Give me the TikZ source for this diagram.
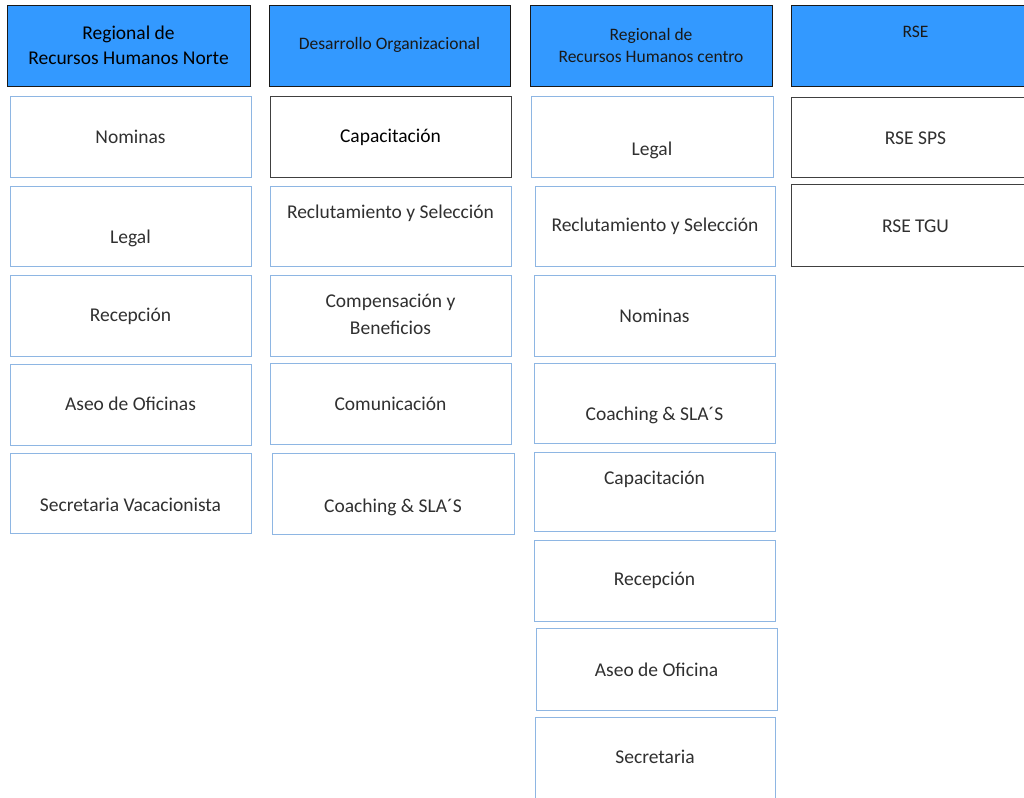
\documentclass[tikz,border=0pt]{standalone}
\usepackage{fontspec}
\setmainfont{Carlito}
\definecolor{headblue}{HTML}{3399FF}
\definecolor{lightedge}{HTML}{8EB6E3}
\definecolor{darkedge}{HTML}{404040}
\definecolor{bodytext}{HTML}{303030}
\tikzset{
  headbox/.style={draw=black!90, line width=1.4pt, fill=headblue, inner sep=0pt},
  unitbox/.style={draw=lightedge, line width=1.4pt, fill=white, inner sep=0pt},
  darkbox/.style={draw=darkedge, line width=1.4pt, fill=white, inner sep=0pt},
  lbl/.style={inner sep=0pt, align=center, text=bodytext, font=\fontsize{19.5}{26}\selectfont},
  headlbl/.style={lbl, text=black!90, font=\fontsize{17.5}{22}\selectfont},
}
% box: name, style, x1, y1, x2, y2, label y, label style, label text
\newcommand\orgbox[9]{%
  \node[#2, minimum width={(#5-#3)*1pt}, minimum height={(#6-#4)*1pt}, anchor=north west] (#1) at (#3,#4) {};
  \node[#8] (#1-t) at ({(#3+#5)/2},#7) {#9};
}
\begin{document}
\begin{tikzpicture}[x=1pt, y=-1pt]
\useasboundingbox (0,0) rectangle (1024,797);
\clip (0,0) rectangle (1024,797);
% headers
\orgbox{hNorte}{headbox}{7}{5}{250}{86}{45.5}{headlbl, text=black, font=\fontsize{19.5}{25}\selectfont}{Regional de\\Recursos Humanos Norte}
\orgbox{hDO}{headbox}{269}{5}{510}{86}{45}{headlbl}{Desarrollo Organizacional}
\orgbox{hCentro}{headbox}{530}{5}{772}{86}{45}{headlbl}{Regional de\\Recursos Humanos centro}
\orgbox{hRSE}{headbox}{791}{5}{1040}{86}{32}{headlbl}{RSE}
% Regional Norte
\orgbox{n1}{unitbox}{10}{96}{251}{177}{137}{lbl}{Nominas}
\orgbox{n2}{unitbox}{10}{186}{251}{266}{238}{lbl}{Legal}
\orgbox{n3}{unitbox}{10}{275}{251}{356}{316}{lbl}{Recepción}
\orgbox{n4}{unitbox}{10}{364}{251}{445}{404}{lbl}{Aseo de Oficinas}
\orgbox{n5}{unitbox}{10}{453}{251}{533}{505}{lbl}{Secretaria Vacacionista}
% Desarrollo Organizacional
\orgbox{d1}{darkbox}{270}{96}{511}{177}{137}{lbl, text=black}{Capacitación}
\orgbox{d2}{unitbox}{270}{186}{511}{266}{213}{lbl}{Reclutamiento y Selección}
\orgbox{d3}{unitbox}{270}{275}{511}{356}{314.5}{lbl, font=\fontsize{19.5}{27}\selectfont}{Compensación y\\Beneficios}
\orgbox{d4}{unitbox}{270}{363}{511}{444}{404}{lbl}{Comunicación}
\orgbox{d5}{unitbox}{272}{453}{514}{534}{507}{lbl}{Coaching \& SLA´S}
% Regional centro
\orgbox{c1}{unitbox}{531}{96}{773}{177}{150}{lbl}{Legal}
\orgbox{c2}{unitbox}{535}{186}{775}{266}{226}{lbl}{Reclutamiento y Selección}
\orgbox{c3}{unitbox}{534}{275}{775}{356}{316}{lbl}{Nominas}
\orgbox{c4}{unitbox}{534}{363}{775}{443}{415}{lbl}{Coaching \& SLA´S}
\orgbox{c5}{unitbox}{534}{452}{775}{531}{479}{lbl}{Capacitación}
\orgbox{c6}{unitbox}{534}{540}{775}{621}{580}{lbl}{Recepción}
\orgbox{c7}{unitbox}{536}{628}{777}{710}{670}{lbl}{Aseo de Oficina}
\orgbox{c8}{unitbox}{535}{717}{775}{810}{757}{lbl}{Secretaria}
% RSE
\orgbox{r1}{darkbox}{791}{97}{1040}{177}{138}{lbl}{RSE SPS}
\orgbox{r2}{darkbox}{791}{184}{1040}{266}{226}{lbl}{RSE TGU}
\end{tikzpicture}
\end{document}
